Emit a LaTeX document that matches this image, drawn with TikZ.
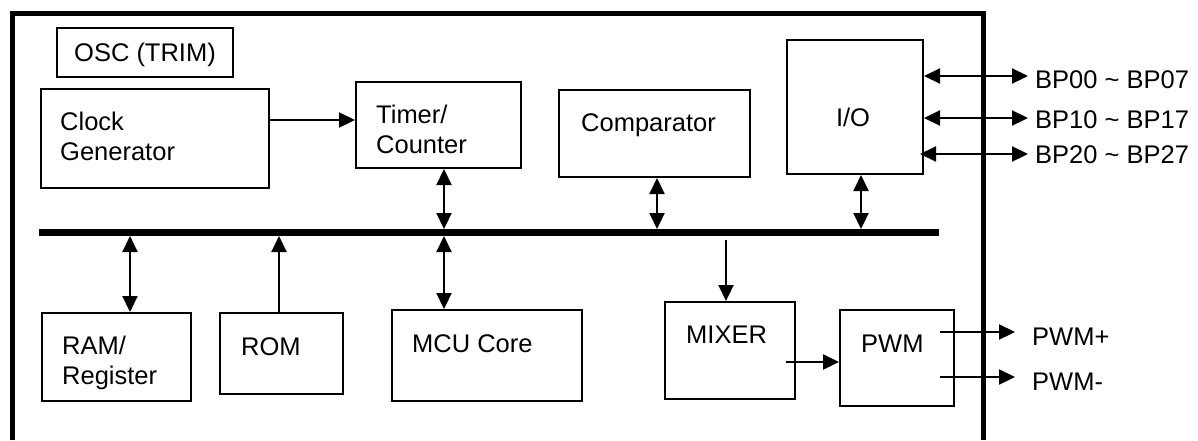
\documentclass[tikz,border=0pt]{standalone}
\usepackage{fontspec}
\setmainfont{Liberation Sans}
\usetikzlibrary{arrows.meta,calc}

\begin{document}
\begin{tikzpicture}[x=1pt, y=-1pt,
  blk/.style 2 args={draw, line width=2pt, anchor=north west, inner sep=0pt,
    minimum width=#1pt, minimum height=#2pt},
  txt/.style={anchor=base west, inner sep=0pt, align=left, font=\fontsize{25.5}{30}\selectfont},
  arr/.style={-{Triangle[length=16pt,width=15pt]}, line width=2.2pt},
  dbl/.style={{Triangle[length=16pt,width=15pt]}-{Triangle[length=16pt,width=15pt]}, line width=2.2pt},
  bus/.style={line width=7pt},
  chip/.style={line width=5pt}]
\useasboundingbox (0,0) rectangle (1198,440);

% chip outline, open at the bottom
\draw[chip] (12,440) |- (983,13) -- (983,440);

% blocks
\node[blk={176}{49}, text depth=0pt, font=\fontsize{25.5}{30}\selectfont] (osc) at (56,27) {OSC (TRIM)};
\node[blk={228}{99}] (clk) at (40,88) {};
\node[blk={165}{86}] (tmr) at (355,81) {};
\node[blk={191}{87}] (cmp) at (558,89) {};
\node[blk={136}{134}] (io) at (786,39) {};
\node[blk={149}{88}] (ram) at (41,312) {};
\node[blk={123}{81}] (rom) at (219,312) {};
\node[blk={190}{91}] (mcu) at (391,309) {};
\node[blk={130}{97}] (mix) at (664,301) {};
\node[blk={114}{96}] (pwm) at (839,309) {};

% block texts (base of a two-line text is its last line)
\node[txt] (tclk) at (60,160) {Clock\\Generator};
\node[txt] (ttmr) at (376,153) {Timer/\\Counter};
\node[txt] (tcmp) at (581,131) {Comparator};
\node[txt, anchor=base] (tio) at (853,126) {I/O};
\node[txt] (tram) at (62,384) {RAM/\\Register};
\node[txt] (trom) at (241,355) {ROM};
\node[txt] (tmcu) at (412,352) {MCU Core};
\node[txt] (tmix) at (686,343) {MIXER};
\node[txt] (tpwm) at (861,352) {PWM};

% data bus
\coordinate (busL) at (39,232.5);
\coordinate (busR) at (939,232.5);
\draw[bus] (busL) -- (busR);

\coordinate (bTmr) at (444,229);
\coordinate (bCmp) at (657,229);
\coordinate (bIo) at (861,229);
\coordinate (bRam) at (130,236);
\coordinate (bRom) at (279,236);
\coordinate (bMcu) at (444,236);
\coordinate (bMix) at (726,240);

\draw[dbl] (tmr.south -| bTmr) -- (bTmr);
\draw[dbl] (cmp.south -| bCmp) -- (bCmp);
\draw[dbl] (io.south -| bIo) -- (bIo);
\draw[dbl] (bRam) -- (bRam |- ram.north);
\draw[arr] (rom.north -| bRom) -- (bRom);
\draw[dbl] (bMcu) -- (bMcu |- mcu.north);
\draw[arr] (bMix) -- (bMix |- mix.north);

% clock and mixer paths
\coordinate (ck) at (268,120);
\draw[arr] (ck) -- (ck -| tmr.west);
\coordinate (mp) at (786,362);
\draw[arr] (mp) -- (mp -| pwm.west);

% port pins
\coordinate (p0) at (1028,76);
\coordinate (p1) at (1028,118);
\coordinate (p2) at (1028,154);
\draw[dbl] (p0 -| io.east) -- (p0);
\draw[dbl] (p1 -| io.east) -- (p1);
\draw[dbl] ($(p2 -| io.east)+(-4,0)$) -- (p2);
\node[txt] (lp0) at (1035,88) {BP00 \textasciitilde{} BP07};
\node[txt] (lp1) at (1035,128) {BP10 \textasciitilde{} BP17};
\node[txt] (lp2) at (1035,163) {BP20 \textasciitilde{} BP27};

% pwm outputs
\coordinate (qp) at (1015,332);
\coordinate (qm) at (1015,377);
\draw[arr] ($(qp -| pwm.east)+(-15,0)$) -- (qp);
\draw[arr] ($(qm -| pwm.east)+(-15,0)$) -- (qm);
\node[txt] (lqp) at (1032,345) {PWM+};
\node[txt] (lqm) at (1032,390) {PWM-};
\end{tikzpicture}
\end{document}
